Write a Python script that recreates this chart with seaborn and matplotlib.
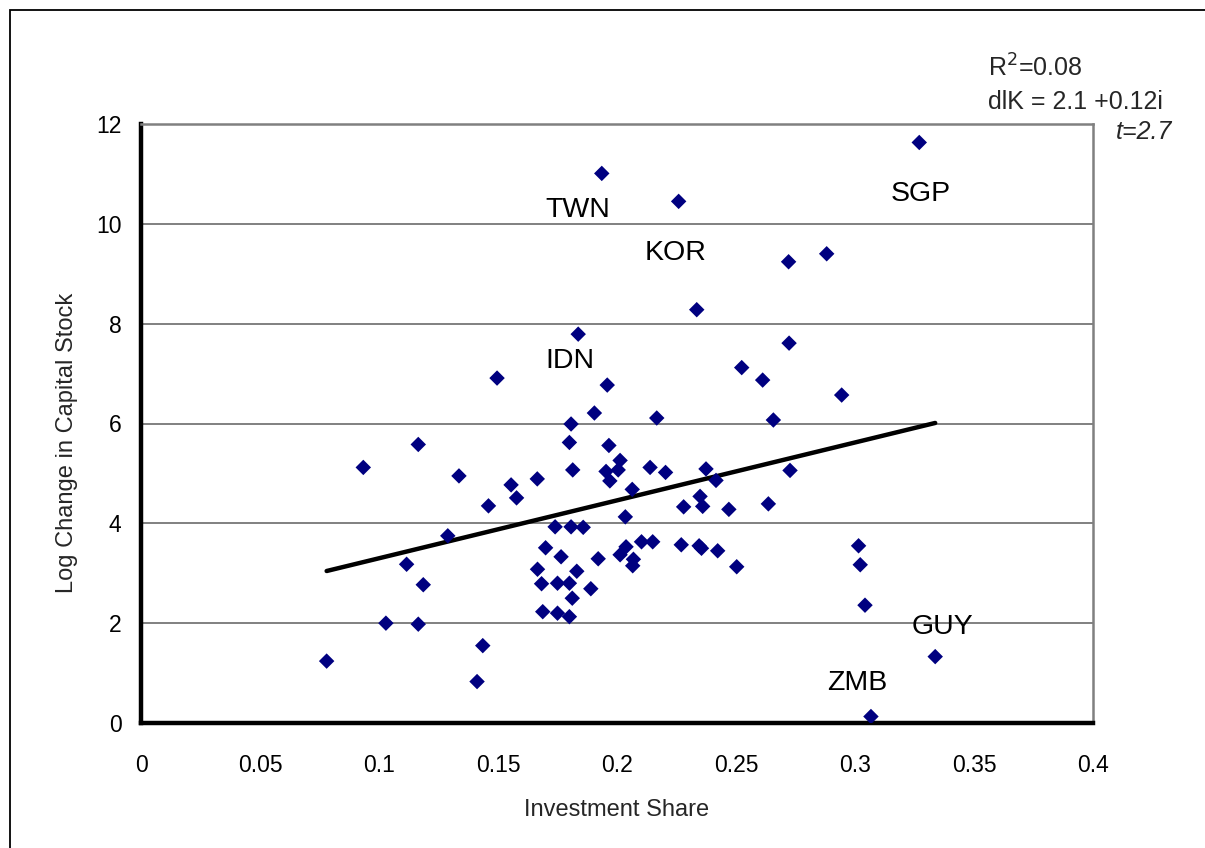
import matplotlib
matplotlib.use("Agg")
import matplotlib.pyplot as plt
import seaborn as sns
import pandas as pd
import numpy as np
from matplotlib.patches import Rectangle

investment_share = [
    0.078, 0.0934, 0.1029, 0.1116, 0.1165, 0.1165, 0.1186, 0.1289, 0.1336, 0.1412,
    0.1436, 0.146, 0.1496, 0.1555, 0.1578, 0.1665, 0.1807, 0.1905, 0.2167, 0.1800,
    0.1966, 0.2013, 0.1814, 0.1954, 0.2005, 0.1970, 0.2139, 0.2204, 0.2064, 0.2035,
    0.1740, 0.1807, 0.1858, 0.1700, 0.1765, 0.1666, 0.1831, 0.1683, 0.1750, 0.1800,
    0.1921, 0.1890, 0.1812, 0.1688, 0.1750, 0.1800, 0.2038, 0.2013, 0.2069, 0.2066,
    0.2103, 0.2150, 0.2270, 0.2280, 0.1936, 0.2259, 0.2335, 0.1837, 0.1959, 0.2723,
    0.2524, 0.2612, 0.2944, 0.2657, 0.2374, 0.2416, 0.2727, 0.2349, 0.2360, 0.2470,
    0.2636, 0.2345, 0.2355, 0.2423, 0.2503, 0.3015, 0.3022, 0.3042, 0.3337, 0.3067,
    0.3270, 0.2721, 0.2881,
]
log_change_capital = [
    1.24, 5.12, 2.00, 3.18, 5.58, 1.98, 2.77, 3.75, 4.95, 0.83,
    1.55, 4.35, 6.91, 4.77, 4.51, 4.89, 5.99, 6.21, 6.11, 5.62,
    5.56, 5.26, 5.07, 5.04, 5.07, 4.85, 5.12, 5.02, 4.68, 4.13,
    3.93, 3.93, 3.92, 3.51, 3.33, 3.08, 3.04, 2.79, 2.80, 2.80,
    3.29, 2.69, 2.50, 2.23, 2.20, 2.13, 3.53, 3.37, 3.28, 3.15,
    3.63, 3.63, 3.57, 4.33, 11.01, 10.45, 8.28, 7.79, 6.77, 7.61,
    7.12, 6.87, 6.57, 6.07, 5.09, 4.86, 5.06, 4.54, 4.34, 4.28,
    4.39, 3.55, 3.50, 3.45, 3.13, 3.55, 3.17, 2.36, 1.33, 0.13,
    11.63, 9.24, 9.40,
]

country_labels = ["TWN", "KOR", "IDN", "SGP", "GUY", "ZMB"]
label_x = [0.1836, 0.2248, 0.1803, 0.3277, 0.3366, 0.3008]
label_y = [10.28, 9.42, 7.25, 10.60, 1.92, 0.80]

fit_intercept = 2.14
fit_slope = 11.6

x_ticks = [0, 0.05, 0.1, 0.15, 0.2, 0.25, 0.3, 0.35, 0.4]
x_tick_labels = ["0", "0.05", "0.1", "0.15", "0.2", "0.25", "0.3", "0.35", "0.4"]
y_ticks = [0, 2, 4, 6, 8, 10, 12]

sns.set_style("white")
plt.rcParams["font.family"] = ["Liberation Sans", "DejaVu Sans"]

df = pd.DataFrame({"inv": investment_share, "dlk": log_change_capital})
xfit = np.array([min(investment_share), max(investment_share)])
fit_df = pd.DataFrame({"inv": xfit, "dlk": fit_intercept + fit_slope * xfit})

fig = plt.figure(figsize=(12.05, 8.48), dpi=100)
ax = fig.add_axes([141 / 1205, 1 - 723 / 848, (1093 - 141) / 1205, (723 - 124) / 848])

for yv in y_ticks[1:]:
    ax.axhline(yv, color="#808080", lw=1.4, zorder=0)

sns.lineplot(data=fit_df, x="inv", y="dlk", ax=ax, color="black", lw=3.2, zorder=3)
sns.scatterplot(data=df, x="inv", y="dlk", ax=ax, marker="D", s=62,
                color="#000080", edgecolor="none", linewidth=0, zorder=4)

ax.set_xlim(0, 0.4)
ax.set_ylim(0, 12)
ax.set_xticks(x_ticks)
ax.set_xticklabels(x_tick_labels)
ax.set_yticks(y_ticks)
ax.tick_params(axis="both", direction="out", length=8, width=3, color="black",
               labelsize=16.5, labelcolor="black")
ax.tick_params(axis="x", pad=14)
ax.tick_params(axis="y", pad=6)

for side in ["left", "bottom"]:
    ax.spines[side].set_color("black")
    ax.spines[side].set_linewidth(3.2)
for side in ["top", "right"]:
    ax.spines[side].set_color("#808080")
    ax.spines[side].set_linewidth(1.8)
    ax.spines[side].set_visible(True)

ax.set_xlabel("Investment Share", fontsize=17, labelpad=16)
ax.set_ylabel("Log Change in Capital Stock", fontsize=17)
ax.yaxis.set_label_coords(-0.066, 0.467)

for lab, lx, ly in zip(country_labels, label_x, label_y):
    ax.text(lx, ly, lab, fontsize=20.5, ha="center", va="center", color="black")

fig.text(988 / 1205, 1 - 68 / 848, "R$^{2}$=0.08", fontsize=18, ha="left", va="center")
fig.text(988 / 1205, 1 - 102 / 848, "dlK = 2.1 +0.12i", fontsize=18, ha="left", va="center")
fig.text(1172 / 1205, 1 - 132 / 848, "t=2.7", fontsize=18, ha="right", va="center",
         style="italic")

fig.patches.append(Rectangle((10 / 1205, -0.1), 1.2, 1 - 10 / 848 + 0.1,
                             transform=fig.transFigure, fill=False,
                             edgecolor="black", lw=1.3))

fig.savefig("out.png", dpi=100)
